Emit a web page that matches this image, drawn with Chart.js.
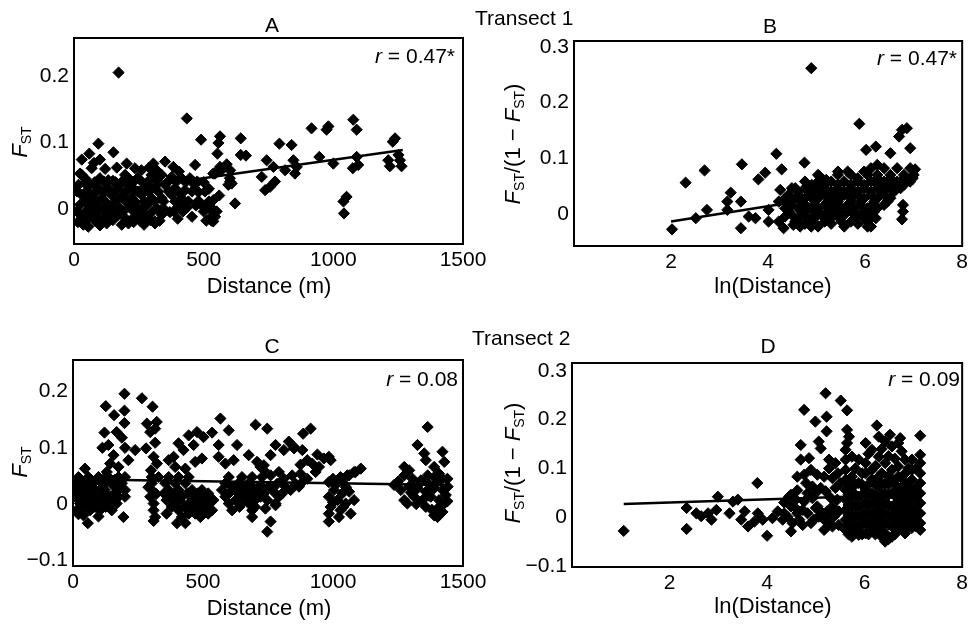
<!DOCTYPE html>
<html><head><meta charset="utf-8">
<script src="https://cdn.jsdelivr.net/npm/chart.js@4.4.1/dist/chart.umd.min.js"></script>
<style>
body{margin:0;width:972px;height:626px;background:#fff;position:relative;overflow:hidden;font-family:'Liberation Sans',Arial,sans-serif;color:#000}
canvas{position:absolute}
.t{position:absolute;white-space:nowrap;font-size:21px;line-height:1}
.c{transform:translate(-50%,-50%)}
.r{transform:translate(-100%,-50%)}
.l{transform:translate(0,-50%)}
.rot{transform:translate(-50%,-50%) rotate(-90deg);font-size:22px}
.ax{font-size:22px}
sub{font-size:14px;vertical-align:-4px;line-height:0}
</style></head><body>
<canvas id="cA" width="500" height="300" style="left:0;top:0"></canvas>
<canvas id="cB" width="486" height="300" style="left:486px;top:0"></canvas>
<canvas id="cC" width="500" height="306" style="left:0;top:320px"></canvas>
<canvas id="cD" width="486" height="306" style="left:486px;top:320px"></canvas>

<div class="t l" style="left:475px;top:17px">Transect 1</div>
<div class="t l" style="left:472px;top:337px">Transect 2</div>
<div class="t c" style="left:272px;top:24px">A</div>
<div class="t c" style="left:770px;top:25px">B</div>
<div class="t c" style="left:272px;top:345px">C</div>
<div class="t c" style="left:768px;top:345px">D</div>
<div class="t r" style="left:455px;top:55px"><i>r</i> = 0.47*</div>
<div class="t r" style="left:957px;top:57px"><i>r</i> = 0.47*</div>
<div class="t r" style="left:458px;top:378px"><i>r</i> = 0.08</div>
<div class="t r" style="left:960px;top:378px"><i>r</i> = 0.09</div>
<div class="t c ax" style="left:269px;top:286px">Distance (m)</div>
<div class="t c ax" style="left:773px;top:286px">ln(Distance)</div>
<div class="t c ax" style="left:269px;top:608px">Distance (m)</div>
<div class="t c ax" style="left:773px;top:606px">ln(Distance)</div>
<div class="t rot" style="left:20px;top:142px"><i>F</i><sub>ST</sub></div>
<div class="t rot" style="left:513px;top:144px"><i>F</i><sub>ST</sub>/(1 − <i>F</i><sub>ST</sub>)</div>
<div class="t rot" style="left:20px;top:462px"><i>F</i><sub>ST</sub></div>
<div class="t rot" style="left:513px;top:463px"><i>F</i><sub>ST</sub>/(1 − <i>F</i><sub>ST</sub>)</div>

<script>
// ---------- tick values and labels ----------
const xTicksDist = [0, 500, 1000, 1500];
const xLabelsDist = ['0', '500', '1000', '1500'];
const xTicksLn = [2, 4, 6, 8];
const xLabelsLn = ['2', '4', '6', '8'];
const yTicksA = [0, 0.1, 0.2];
const yLabelsA = ['0', '0.1', '0.2'];
const yTicksB = [0, 0.1, 0.2, 0.3];
const yLabelsB = ['0', '0.1', '0.2', '0.3'];
const yTicksC = [-0.1, 0, 0.1, 0.2];
const yLabelsC = ['\u22120.1', '0', '0.1', '0.2'];
const yTicksD = [-0.1, 0, 0.1, 0.2, 0.3];
const yLabelsD = ['\u22120.1', '0', '0.1', '0.2', '0.3'];

// ---------- Panel A: distance (m) vs FST, transect 1 ----------
const pointsA = [
[172,0.205],[435,0.136],
[23,0.053],[30,0.074],[59,0.083],[94,0.098],[77,0.069],[100,0.074],[68,0.061],[152,0.085],[203,0.068],[235,0.061],[306,0.068],[351,0.071],[319,0.058],[383,0.063],[467,0.066],
[490,0.104],[563,0.109],[557,0.099],[553,0.083],[643,0.106],[643,0.081],[663,0.080],[537,0.053],[563,0.063],[589,0.067],[602,0.058],[602,0.041],[537,-0.019],
[724,0.048],[743,0.073],[769,0.063],[737,0.028],[756,0.033],[775,0.041],[792,0.098],[839,0.096],[846,0.073],[814,0.058],[859,0.063],[852,0.053],
[916,0.121],[981,0.124],[974,0.119],[946,0.078],[1000,0.068],[1077,0.134],[1090,0.119],[1090,0.078],[1096,0.066],[1075,0.061],[1051,0.018],[1039,0.011],[1041,-0.007],
[1238,0.106],[1229,0.101],[1212,0.073],[1218,0.064],[1251,0.081],[1257,0.073],[1263,0.064],
[30,0.051],[100,0.046],[132,0.043],[197,0.051],[210,0.046],[261,0.041],[299,0.051],[338,0.051],[377,0.048],[415,0.046],[447,0.046],[460,0.041],[544,0.053],[569,0.058],[601,0.046],
[17,0.036],[55,0.033],[94,0.031],[132,0.031],[171,0.033],[210,0.036],[235,0.028],[274,0.031],[312,0.033],[351,0.036],[389,0.031],[428,0.028],[466,0.036],[595,0.036],[608,0.038],
[30,0.021],[68,0.018],[107,0.016],[145,0.021],[184,0.018],[222,0.016],[261,0.021],[299,0.016],[338,0.016],[377,0.021],[415,0.016],[441,0.011],[492,0.006],[537,0.013],[621,0.008],
[23,0.006],[62,0.003],[100,0.001],[132,0.006],[177,0.001],[216,0.003],[248,0.001],[280,0.006],[319,0.001],[351,-0.002],[402,0.003],[434,0.001],[511,0.001],[531,0.001],[550,-0.004],
[30,-0.012],[62,-0.009],[94,-0.014],[132,-0.012],[171,-0.009],[197,-0.014],[242,-0.012],[280,-0.014],[312,-0.019],[338,-0.009],[524,-0.014],[544,-0.012],
[36,-0.024],[55,-0.027],[126,-0.022],[184,-0.024],[210,-0.022],[312,-0.022],
[120,0.060],[165,0.062],[260,0.058],[290,0.062],[405,0.056],[45,0.045],[80,0.040],[160,0.040],[245,0.046],[365,0.042],[480,0.025],[500,0.040],[520,0.030],[560,0.020],
[470,0.005],[455,-0.012],[400,-0.015],[370,-0.005],[85,-0.003],[150,-0.002],[265,-0.005],[230,-0.020],[270,-0.024],[15,-0.020],[100,-0.025],
[45,0.041],[115,0.041],[150,0.042],[185,0.041],[230,0.041],[285,0.041],[320,0.042],[395,0.041],[430,0.040],[475,0.041],
[12,0.026],[48,0.026],[85,0.026],[120,0.026],[160,0.026],[200,0.026],[245,0.026],[290,0.026],[325,0.026],[365,0.026],[400,0.026],[455,0.026],[505,0.026],
[45,0.011],[85,0.011],[120,0.011],[160,0.011],[200,0.011],[235,0.011],[270,0.011],[310,0.011],[345,0.011],[390,0.011],[425,0.011],[480,0.012],[520,0.011],
[12,-0.004],[45,-0.004],[80,-0.005],[115,-0.004],[155,-0.004],[190,-0.004],[230,-0.004],[300,-0.005],[335,-0.003],[385,-0.004],[420,-0.004],[500,-0.004],[535,-0.004],
[45,-0.018],[80,-0.018],[110,-0.018],[150,-0.017],[220,-0.017],[255,-0.018],[295,-0.017],[330,-0.018],[510,-0.018],[530,-0.018]
];
const lineA = [[20,0.0196],[1268,0.0883]];

// ---------- Panel B: ln(distance) vs FST/(1-FST), transect 1 ----------
const pointsB = [
[4.89,0.262],[5.88,0.162],[2.02,-0.028],[2.30,0.056],[2.69,0.078],[2.74,0.007],[2.51,-0.008],[3.46,0.089],[4.17,0.108],[4.75,0.092],[4.28,0.080],[3.94,0.074],[3.80,0.062],[3.23,0.038],[3.16,0.022],[3.44,0.022],[3.44,-0.026],[3.16,0.007],[3.60,-0.005],[3.74,-0.008],[4.01,0.007],[4.25,0.043],[4.56,0.046],[4.35,-0.005],[4.01,-0.014],[4.22,-0.014],[4.32,-0.026],[4.52,-0.020],[4.66,-0.023],[4.89,-0.023],[4.89,-0.008],[5.07,0.067],[5.20,0.061],
[6.02,0.115],[6.22,0.121],[6.52,0.109],[6.76,0.151],[6.86,0.154],[6.70,0.139],[6.93,0.118],[6.78,0.016],[6.78,0.004],[6.76,-0.010],[6.12,-0.023],
[5.44,0.076],[5.64,0.076],[5.98,0.076],[6.25,0.088],
[6.12,0.082],[6.39,0.082],[6.66,0.082],[6.93,0.082],[7.03,0.080],
[5.03,0.070],[5.44,0.070],[5.71,0.070],[6.05,0.070],[6.25,0.070],[6.52,0.070],[6.80,0.070],[7.00,0.070],
[4.76,0.058],[5.03,0.058],[5.30,0.058],[5.57,0.058],[5.85,0.058],[6.12,0.058],[6.39,0.058],[6.66,0.058],[6.93,0.058],
[4.49,0.046],[4.76,0.046],[4.96,0.046],[5.17,0.046],[5.44,0.046],[5.71,0.046],[5.98,0.046],[6.25,0.046],[6.46,0.046],[6.73,0.046],
[4.42,0.034],[4.62,0.034],[4.89,0.034],[5.17,0.034],[5.37,0.034],[5.57,0.034],[5.85,0.034],[6.12,0.034],[6.39,0.034],
[4.22,0.022],[4.49,0.022],[4.69,0.022],[4.96,0.022],[5.23,0.022],[5.44,0.022],[5.71,0.022],[5.91,0.022],[6.19,0.022],[6.46,0.022],
[4.35,0.010],[4.62,0.010],[4.83,0.010],[5.03,0.010],[5.30,0.010],[5.51,0.010],[5.78,0.010],[6.05,0.010],[6.25,0.010],
[4.49,-0.002],[4.76,-0.002],[5.10,-0.002],[5.37,-0.002],[5.57,-0.002],[5.85,-0.002],[6.12,-0.002],
[4.56,-0.014],[4.89,-0.014],[5.17,-0.014],[5.51,-0.014],[5.71,-0.014],[6.05,-0.014],
[5.03,-0.023],[5.57,-0.023],[6.05,-0.023],
[5.85,0.064],[6.25,0.064],[6.52,0.064],[6.80,0.064],[6.98,0.064],
[4.90,0.052],[5.17,0.052],[5.44,0.052],[5.71,0.052],[5.98,0.052],[6.25,0.052],[6.52,0.052],[6.80,0.052],
[4.62,0.040],[4.86,0.040],[5.07,0.040],[5.30,0.040],[5.57,0.040],[5.85,0.040],[6.12,0.040],[6.35,0.040],[6.60,0.040],
[4.35,0.028],[4.56,0.028],[4.76,0.028],[5.03,0.028],[5.27,0.028],[5.47,0.028],[5.71,0.028],[5.98,0.028],[6.25,0.028],[6.52,0.028],
[4.49,0.016],[4.76,0.016],[4.96,0.016],[5.17,0.016],[5.40,0.016],[5.64,0.016],[5.91,0.016],[6.15,0.016],[6.39,0.016],
[4.42,0.004],[4.69,0.004],[4.96,0.004],[5.23,0.004],[5.44,0.004],[5.71,0.004],[5.98,0.004],[6.19,0.004],
[4.62,-0.008],[4.96,-0.008],[5.27,-0.008],[5.47,-0.008],[5.78,-0.008],[5.98,-0.008],[6.22,-0.008],
[4.76,-0.018],[5.30,-0.018],[5.85,-0.018]
];
const lineB = [[2.0,-0.014],[7.0,0.055]];

// ---------- Panel C: distance (m) vs FST, transect 2 ----------
const pointsC = [
[198,0.196],[265,0.188],[126,0.174],[306,0.173],[198,0.166],[158,0.158],[198,0.144],[121,0.127],[168,0.128],[188,0.118],[284,0.143],[322,0.146],[297,0.128],[316,0.134],[281,0.099],[316,0.109],[113,0.100],[136,0.105],[200,0.100],[239,0.096],[213,0.078],[156,0.087],[143,0.072],[175,0.066],[46,0.063],[130,0.057],
[567,0.152],[599,0.131],[702,0.141],[445,0.122],[477,0.128],[502,0.119],[535,0.127],[406,0.108],[425,0.096],[464,0.105],[560,0.105],[631,0.105],[387,0.084],[368,0.078],[310,0.084],[323,0.072],[470,0.075],[496,0.081],[560,0.084],[586,0.072],[618,0.078],[676,0.087],[393,0.066],[432,0.063],[721,0.066],[708,0.075],
[21,0.048],[59,0.048],[98,0.048],[136,0.048],[175,0.048],[200,0.048],[303,0.048],[329,0.048],[368,0.048],[406,0.048],[445,0.048],[599,0.048],[650,0.048],[689,0.048],[727,0.048],
[8,0.037],[40,0.037],[78,0.037],[111,0.037],[149,0.037],[188,0.037],[303,0.037],[355,0.037],[393,0.037],[432,0.037],[586,0.037],[637,0.037],[676,0.037],
[21,0.025],[53,0.025],[85,0.025],[123,0.025],[175,0.025],[200,0.025],[303,0.025],[368,0.025],[406,0.025],[458,0.025],[496,0.025],[573,0.025],[624,0.025],[663,0.025],[702,0.025],
[8,0.013],[46,0.013],[78,0.013],[104,0.013],[143,0.013],[175,0.013],[200,0.013],[297,0.013],[380,0.013],[419,0.013],[470,0.013],[509,0.013],[586,0.013],[650,0.013],[689,0.013],[721,0.013],
[27,0.001],[59,0.001],[91,0.001],[130,0.001],[168,0.001],[310,0.001],[393,0.001],[445,0.001],[483,0.001],[522,0.001],[599,0.001],[676,0.001],
[14,-0.011],[66,-0.011],[104,-0.011],[149,-0.011],[310,-0.011],[406,-0.011],[458,-0.011],[496,-0.011],[535,-0.011],[612,-0.011],[689,-0.011],
[21,-0.018],[40,-0.020],[98,-0.022],[194,-0.023],[316,-0.023],[419,-0.023],[490,-0.023],[689,-0.023],
[57,-0.034],[400,-0.034],[432,-0.034],
[30,0.043],[70,0.043],[115,0.043],[160,0.043],[30,0.031],[70,0.031],[115,0.031],[160,0.031],[30,0.019],[70,0.019],[115,0.019],[160,0.019],[30,0.007],[70,0.007],[115,0.007],[160,0.007],[45,-0.005],[85,-0.005],[125,-0.005],
[290,0.030],[320,0.018],[300,0.060],[310,-0.030],
[350,0.019],[390,0.019],[440,0.019],[480,0.019],[520,0.019],[360,0.007],[410,0.007],[460,0.007],[500,0.007],[540,0.007],[380,-0.005],[430,-0.005],[470,-0.005],[515,-0.005],[360,-0.017],[445,-0.017],[470,-0.017],[520,-0.017],
[610,0.031],[650,0.031],[690,0.031],[600,0.019],[640,0.019],[680,0.019],[715,0.019],[625,0.007],[660,0.007],[700,0.007],[640,-0.005],[700,-0.005],
[747,0.134],[885,0.125],[914,0.134],[830,0.111],[850,0.099],[882,0.096],[779,0.105],[760,0.087],[811,0.096],[849,0.102],[734,0.069],
[965,0.081],[984,0.084],[991,0.078],[946,0.066],[933,0.057],[901,0.078],[920,0.072],[875,0.070],[940,0.088],
[734,0.060],[760,0.051],[792,0.057],[811,0.045],[843,0.051],[875,0.054],[901,0.045],[721,0.034],[753,0.031],[785,0.036],[817,0.031],[856,0.036],[888,0.042],[734,0.019],[772,0.022],[805,0.019],[837,0.025],[869,0.031],[747,0.007],[779,0.001],[792,0.013],
[740,-0.008],[779,-0.002],[760,-0.031],[747,-0.049],
[1107,0.063],[1087,0.057],[1055,0.051],[1029,0.048],
[1029,0.045],[1062,0.051],[1081,0.057],[984,0.039],[1010,0.034],[1042,0.036],[1004,0.025],[1036,0.019],[1062,0.022],[984,0.013],[1017,0.007],[1049,0.001],[1081,0.007],[991,-0.005],[1029,-0.011],[1068,-0.017],[984,-0.017],[1023,-0.023],[984,-0.031],
[1000,0.045],[1050,0.030],[1000,0.003],[1040,-0.005],
[1364,0.137],[1325,0.105],[1351,0.090],[1357,0.078],[1421,0.093],[1428,0.075],[1274,0.066],[1293,0.060],[1389,0.066],[1408,0.054],
[1235,0.034],[1274,0.051],[1306,0.045],[1338,0.042],[1364,0.051],[1389,0.048],[1421,0.045],[1261,0.025],[1293,0.031],[1325,0.028],[1357,0.022],[1389,0.028],[1421,0.025],[1441,0.031],[1274,0.007],[1312,0.013],[1344,0.007],[1376,0.013],[1408,0.007],[1434,0.016],[1286,0.001],[1357,-0.005],[1402,-0.008],[1428,0.001],[1389,-0.020],[1402,-0.023],[1421,-0.014],
[1250,0.040],[1300,0.020],[1330,0.035],[1370,0.035],[1400,0.038],[1440,0.045],[1320,0.000],[1365,0.015],[1415,-0.003],[1440,0.005],[1380,-0.010]
];
const lineC = [[0,0.044],[1447,0.034]];

// ---------- Panel D: ln(distance) vs FST/(1-FST), transect 2 ----------
const pointsD = [
[1.06,-0.028],[2.35,0.019],[2.35,-0.024],[2.55,0.008],[2.65,0.002],[2.79,0.008],[2.96,0.015],[2.99,0.042],[2.86,-0.005],[3.23,0.008],[3.30,0.032],[3.40,0.036],[3.54,0.012],[3.47,-0.005],[3.61,-0.019],[3.74,-0.009],[3.81,0.008],[3.91,-0.005],[3.80,0.070],[4.00,-0.038],[4.11,-0.002],
[4.22,0.012],[4.32,-0.005],[4.42,0.001],[4.45,0.042],[4.52,-0.012],[4.62,0.008],[4.73,0.015],[4.49,-0.029],[4.66,-0.005],[4.83,0.008],[4.96,-0.005],[5.10,0.012],[5.20,0.001],[5.17,-0.026],[5.27,-0.012],[5.03,0.022],
[4.49,0.046],[4.59,0.036],[4.76,0.032],[4.93,0.039],[5.44,0.036],[5.34,0.022],[5.00,0.019],[5.23,0.012],[5.47,0.012],[4.49,0.022],[4.62,0.015],[4.35,0.008],[5.06,0.001],[5.37,0.001],[5.17,-0.005],[4.73,-0.016],[4.90,-0.012],[5.34,-0.019],[5.47,-0.016],
[4.35,0.030],[4.62,0.055],[4.80,0.070],[5.00,0.050],[5.30,0.040],[5.45,0.090],[5.50,0.070],
[5.20,0.254],[5.51,0.239],[5.64,0.219],[4.76,0.220],[5.22,0.206],[4.99,0.196],[5.22,0.176],[4.69,0.148],[5.06,0.155],[5.10,0.141],[4.69,0.118],[4.86,0.121],[6.25,0.188],[6.52,0.169],[6.73,0.162],[7.14,0.167],[5.64,0.179],[5.68,0.165],[5.64,0.152],[5.27,0.118],[5.40,0.111],[4.90,0.097],[5.03,0.087],[5.17,0.083],[4.93,0.063],[4.83,0.049],[5.27,0.100],[5.34,0.080],[5.10,0.060],[5.20,0.053],[5.40,0.060],[4.62,0.083],[4.76,0.087],
[5.61,0.138],[5.61,0.118],[5.61,0.097],[5.61,0.077],[5.61,0.056],[5.61,0.036],[5.61,0.015],[5.61,-0.005],[5.61,-0.026],
[5.74,0.124],[5.74,0.083],[5.74,0.063],[5.74,0.042],[5.74,0.022],[5.74,0.001],[5.74,-0.019],[5.74,-0.040],
[5.88,0.118],[5.88,0.070],[5.88,0.042],[5.88,0.022],[5.88,0.001],[5.88,-0.019],[5.88,-0.036],
[6.02,0.152],[6.02,0.111],[6.02,0.090],[6.02,0.056],[6.02,0.029],[6.02,0.008],[6.02,-0.012],[6.02,-0.033],
[6.15,0.138],[6.15,0.097],[6.15,0.077],[6.15,0.049],[6.15,0.029],[6.15,0.008],[6.15,-0.012],[6.15,-0.029],
[6.29,0.165],[6.29,0.124],[6.29,0.083],[6.29,0.063],[6.29,0.036],[6.29,0.015],[6.29,-0.005],[6.29,-0.026],
[6.42,0.155],[6.42,0.111],[6.42,0.070],[6.42,0.049],[6.42,0.029],[6.42,0.008],[6.42,-0.012],[6.42,-0.033],[6.42,-0.050],
[6.56,0.145],[6.56,0.097],[6.56,0.077],[6.56,0.049],[6.56,0.022],[6.56,0.001],[6.56,-0.019],[6.56,-0.040],
[6.69,0.152],[6.69,0.104],[6.69,0.083],[6.69,0.056],[6.69,0.036],[6.69,0.015],[6.69,-0.005],[6.69,-0.026],
[6.83,0.118],[6.83,0.090],[6.83,0.070],[6.83,0.049],[6.83,0.029],[6.83,0.008],[6.83,-0.012],[6.83,-0.033],
[6.97,0.118],[6.97,0.097],[6.97,0.077],[6.97,0.056],[6.97,0.036],[6.97,0.015],[6.97,-0.005],[6.97,-0.022],
[7.14,0.128],[7.14,0.111],[7.14,0.090],[7.14,0.070],[7.14,0.049],[7.14,0.029],[7.14,0.008],[7.14,-0.012],[7.14,-0.026],
[5.67,0.067],[5.67,0.046],[5.67,0.025],[5.67,0.005],[5.67,-0.015],[5.67,-0.035],
[5.81,0.100],[5.81,0.067],[5.81,0.046],[5.81,0.025],[5.81,0.005],[5.81,-0.015],[5.81,-0.030],
[5.95,0.090],[5.95,0.067],[5.95,0.046],[5.95,0.025],[5.95,0.005],[5.95,-0.015],[5.95,-0.035],
[6.08,0.130],[6.08,0.067],[6.08,0.046],[6.08,0.025],[6.08,0.005],[6.08,-0.015],[6.08,-0.035],
[6.22,0.105],[6.22,0.067],[6.22,0.046],[6.22,0.025],[6.22,0.005],[6.22,-0.015],[6.22,-0.035],
[6.35,0.140],[6.35,0.090],[6.35,0.067],[6.35,0.046],[6.35,0.025],[6.35,0.005],[6.35,-0.015],[6.35,-0.040],
[6.49,0.125],[6.49,0.085],[6.49,0.067],[6.49,0.046],[6.49,0.025],[6.49,0.005],[6.49,-0.015],[6.49,-0.045],
[6.62,0.120],[6.62,0.067],[6.62,0.046],[6.62,0.025],[6.62,0.005],[6.62,-0.015],[6.62,-0.035],
[6.76,0.135],[6.76,0.080],[6.76,0.060],[6.76,0.040],[6.76,0.020],[6.76,0.000],[6.76,-0.020],
[6.90,0.100],[6.90,0.060],[6.90,0.040],[6.90,0.020],[6.90,0.000],[6.90,-0.020],
[7.05,0.100],[7.05,0.060],[7.05,0.040],[7.05,0.020],[7.05,0.000],[7.05,-0.018]
];
const lineD = [[1.06,0.027],[7.2,0.047]];

// ---------- drawing ----------
Chart.defaults.font.family = "'Liberation Sans', Arial, Helvetica, sans-serif";
Chart.defaults.color = '#000';

const boxPlugin = {
  id: 'box',
  afterDraw(c) {
    const a = c.chartArea, ctx = c.ctx;
    ctx.save();
    ctx.strokeStyle = '#000';
    ctx.lineWidth = 2;
    ctx.strokeRect(a.left, a.top, a.right - a.left, a.bottom - a.top);
    ctx.restore();
  }
};

function panel(id, cfg) {
  new Chart(document.getElementById(id), {
    type: 'scatter',
    data: {
      datasets: [
        { data: cfg.line.map(p => ({x: p[0], y: p[1]})), showLine: true, pointRadius: 0,
          borderColor: '#000', borderWidth: 2.5, order: 1 },
        { data: cfg.points.map(p => ({x: p[0], y: p[1]})), pointStyle: 'rectRot',
          pointRadius: 5.6, pointHoverRadius: 5.6, backgroundColor: '#000', borderColor: '#000',
          borderWidth: 1, order: 0 }
      ]
    },
    options: {
      responsive: false, animation: false, devicePixelRatio: 1,
      layout: { padding: cfg.pad },
      plugins: { legend: { display: false }, tooltip: { enabled: false } },
      scales: {
        x: {
          type: 'linear', min: cfg.xMin, max: cfg.xMax,
          grid: { display: false, drawTicks: false }, border: { display: false },
          ticks: { font: { size: 21 }, padding: 4, maxRotation: 0, autoSkip: false,
                   callback: (v, i) => cfg.xLabels[i] },
          afterBuildTicks: s => { s.ticks = cfg.xTicks.map(v => ({ value: v })); },
          afterFit: s => { s.height = cfg.xH; }
        },
        y: {
          type: 'linear', min: cfg.yMin, max: cfg.yMax,
          grid: { display: false, drawTicks: false }, border: { display: false },
          ticks: { font: { size: 21 }, padding: 5, autoSkip: false,
                   callback: (v, i) => cfg.yLabels[i] },
          afterBuildTicks: s => { s.ticks = cfg.yTicks.map(v => ({ value: v })); },
          afterFit: s => { s.width = cfg.yW; }
        }
      }
    },
    plugins: [boxPlugin]
  });
}

panel('cA', { points: pointsA, line: lineA, xMin: 0, xMax: 1500, yMin: -0.053, yMax: 0.257,
  xTicks: xTicksDist, xLabels: xLabelsDist, yTicks: yTicksA, yLabels: yLabelsA,
  pad: { left: 0, right: 37, top: 38, bottom: 0 }, yW: 74, xH: 56 });
panel('cB', { points: pointsB, line: lineB, xMin: 0, xMax: 8, yMin: -0.058, yMax: 0.311,
  xTicks: xTicksLn, xLabels: xLabelsLn, yTicks: yTicksB, yLabels: yLabelsB,
  pad: { left: 0, right: 8, top: 41, bottom: 0 }, yW: 88, xH: 54 });
panel('cC', { points: pointsC, line: lineC, xMin: 0, xMax: 1500, yMin: -0.110, yMax: 0.256,
  xTicks: xTicksDist, xLabels: xLabelsDist, yTicks: yTicksC, yLabels: yLabelsC,
  pad: { left: 0, right: 37, top: 40, bottom: 0 }, yW: 73, xH: 60 });
panel('cD', { points: pointsD, line: lineD, xMin: 0, xMax: 8, yMin: -0.102, yMax: 0.316,
  xTicks: xTicksLn, xLabels: xLabelsLn, yTicks: yTicksD, yLabels: yLabelsD,
  pad: { left: 0, right: 8, top: 43, bottom: 0 }, yW: 86, xH: 59 });
</script>
</body></html>
